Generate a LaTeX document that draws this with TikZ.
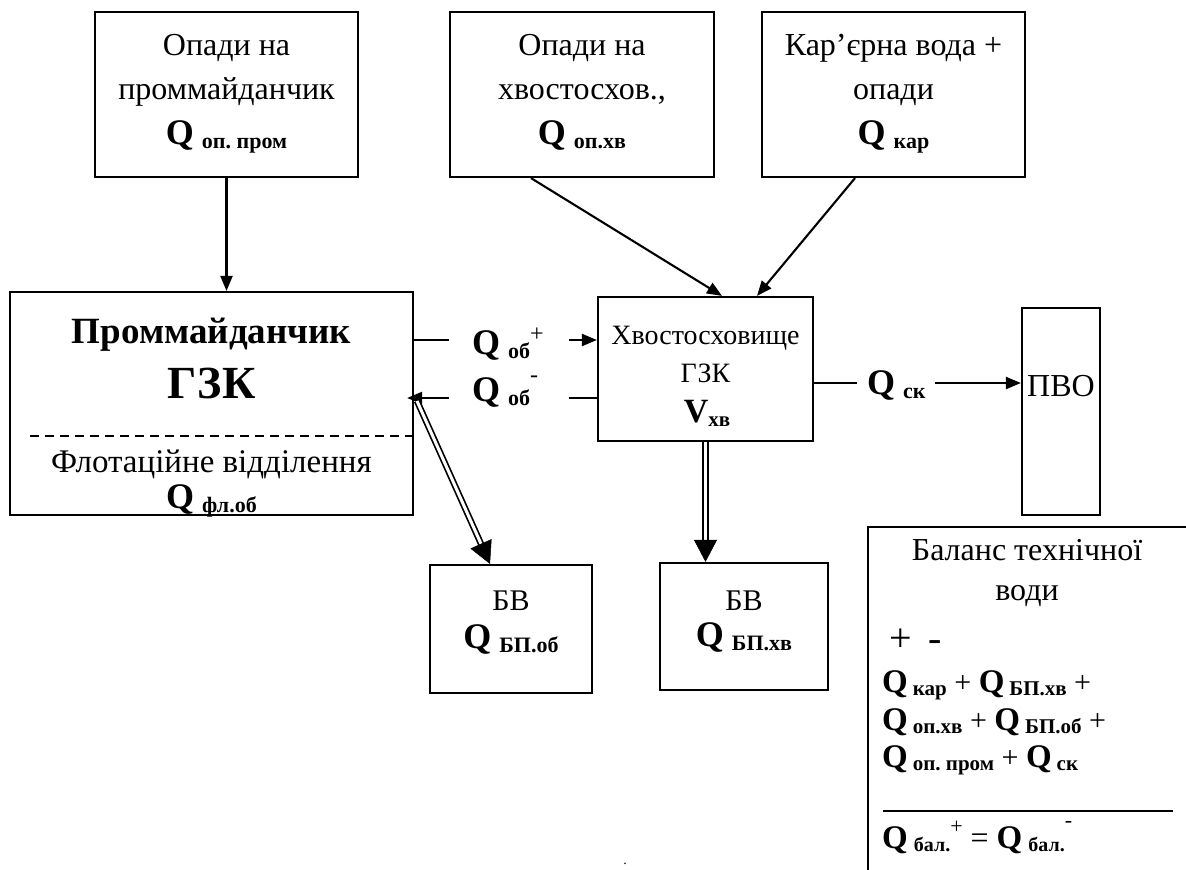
\documentclass[tikz,border=0pt]{standalone}
\usepackage{fontspec}
\setmainfont{Liberation Serif}
\usetikzlibrary{arrows.meta,calc}
\newcommand\fs[1]{\fontsize{#1}{#1}\selectfont}
\newcommand\Qb[1]{{\fs{36}\bfseries Q}\hspace{8pt}\raisebox{-4pt}{\fs{22}\bfseries #1}}
\newcommand\Qs[1]{{\fs{33}\bfseries Q}\hspace{5pt}\raisebox{-3pt}{\fs{21}\bfseries #1}}
\newcommand\Qt[1]{{\fs{33}\bfseries Q}\hspace{6pt}\raisebox{-3pt}{\fs{20}\bfseries #1}}
\begin{document}
\begin{tikzpicture}[x=1pt,y=-1pt,
 box/.style={draw, line width=2.2pt, inner sep=0pt},
 txt/.style={inner sep=0pt, anchor=base, font=\fs{32}},
 lab/.style={inner sep=0pt, anchor=base west},
 arr/.style={line width=2.1pt, -{Triangle[length=15pt,width=12pt]}},
 ln/.style={line width=2.1pt},
 dbl/.style={double, line width=1.7pt, double distance=3pt},
 dtip/.style={line width=0.5pt, -{Triangle[length=22pt,width=23pt]}},
 frame/.style={line width=2.2pt}
]
\useasboundingbox (0,0) rectangle (1186,870);
% boxes
\node[box, minimum width=263pt, minimum height=165pt] (b1) at (226.5,94.5) {};
\node[box, minimum width=264pt, minimum height=165pt] (b2) at (582,94.5) {};
\node[box, minimum width=263pt, minimum height=165pt] (b3) at (893.5,94.5) {};
\node[box, minimum width=403pt, minimum height=223pt] (main) at (211.5,403.5) {};
\node[box, minimum width=215pt, minimum height=144pt] (hv) at (705.5,369) {};
\node[box, minimum width=78pt, minimum height=207pt] (pvo) at (1061,411.5) {};
\node[box, minimum width=162pt, minimum height=128pt] (bv1) at (511,629) {};
\node[box, minimum width=168pt, minimum height=127pt] (bv2) at (744,626.5) {};
% box texts
\node[txt] (b1a) at (226.5,55) {Опади на};
\node[txt] (b1b) at (226.5,99) {проммайданчик};
\node[txt] (b1c) at (226.5,144) {\Qb{оп.~пром}};
\node[txt] (b2a) at (582,55) {Опади на};
\node[txt] (b2b) at (582,99) {хвостосхов.,};
\node[txt] (b2c) at (582,144) {\Qb{оп.хв}};
\node[txt] (b3a) at (893.5,55) {Кар’єрна вода +};
\node[txt] (b3b) at (893.5,99) {опади};
\node[txt] (b3c) at (893.5,144) {\Qb{кар}};
\node[txt, font=\fs{37}\bfseries] (m1) at (211.5,343) {Проммайданчик};
\node[txt, font=\fs{46}\bfseries] (m2) at (211.5,398) {ГЗК};
\coordinate (dl) at (30,436);
\draw[line width=1.5pt, dash pattern=on 9pt off 6pt] (dl) -- (dl -| main.east);
\node[txt, font=\fs{33}] (m3) at (211.5,472) {Флотаційне відділення};
\node[txt] (m4) at (211.5,508) {\Qb{фл.об}};
\node[txt, font=\fs{28}] (h1) at (705.5,344) {Хвостосховище};
\node[txt, font=\fs{28}] (h2) at (705.5,382) {ГЗК};
\node[txt] (h3) at (707,422) {{\fs{34}\bfseries V}\raisebox{-4pt}{\fs{21}\bfseries хв}};
\node[txt, font=\fs{32}] (p1) at (1061,396) {ПВО};
\node[txt, font=\fs{30}] (v1a) at (511,610) {БВ};
\node[txt] (v1b) at (511,648) {\Qb{БП.об}};
\node[txt, font=\fs{30}] (v2a) at (744,610) {БВ};
\node[txt] (v2b) at (744,646) {\Qb{БП.хв}};
% arrows from top boxes
\draw[arr] (b1.south) -- (b1.south |- main.north);
\draw[arr] ([xshift=-51pt]b2.south) -- ([xshift=16.5pt]hv.north);
\draw[arr] ([xshift=-38.5pt]b3.south) -- ([xshift=51.5pt]hv.north);
% Q ob
\coordinate (q1l) at (449,340); \coordinate (q1r) at (569,340);
\draw[ln] (main.east |- q1l) -- (q1l);
\draw[arr] (q1r) -- (q1r -| hv.west);
\node[lab] (qop) at (472,354) {\Qb{об}\raisebox{13pt}{\fs{24}+}};
\coordinate (q2l) at (449,398); \coordinate (q2r) at (569,398);
\draw[arr] (q2l) -- ([xshift=-7pt]main.east |- q2l);
\draw[ln] (q2r) -- (q2r -| hv.west);
\node[lab] (qom) at (472,401) {\Qb{об}\raisebox{19pt}{\fs{24}-}};
% Q sk
\coordinate (sl) at (857,383); \coordinate (sr) at (935,383);
\draw[ln] (hv.east |- sl) -- (sl);
\node[lab] (qsk) at (867,394) {\Qb{ск}};
\draw[arr] (sr) -- (sr -| pvo.west);
% double arrows
\coordinate (d1s) at (417,401);
\coordinate (d1e) at ([xshift=-21pt]bv1.north);
\draw[dbl, shorten >=20pt] (d1s) -- (d1e);
\draw[dtip] ($(d1e)!21pt!(d1s)$) -- (d1e);
\coordinate (d2s) at (hv.south);
\coordinate (d2e) at (d2s |- bv2.north);
\draw[dbl, shorten >=20pt] (d2s) -- (d2e);
\draw[dtip] ($(d2e)!21pt!(d2s)$) -- (d2e);
% balance
\coordinate (btr) at (1186,527); \coordinate (btl) at (868,527); \coordinate (bbl) at (868,870);
\draw[frame] (btr) -- (btl) -- (bbl);
\node[txt] (bal1) at (1027,560) {Баланс технічної};
\node[txt] (bal2) at (1027,600) {води};
\node[lab, font=\fs{40}] (bal3) at (889,651) {+ \,-};
\node[lab, font=\fs{30}] (f1) at (882,692) {\Qs{кар} + \Qs{БП.хв} +};
\node[lab, font=\fs{30}] (f2) at (882,730) {\Qs{оп.хв} + \Qs{БП.об} +};
\node[lab, font=\fs{30}] (f3) at (882,767) {\Qs{оп.~пром} + \Qs{ск}};
\coordinate (s1) at (883,811); \coordinate (s2) at (1173,811);
\draw[frame] (s1) -- (s2);
\node[lab, font=\fs{32}] (f4) at (882,848) {\Qt{бал.}\raisebox{15pt}{\fs{22}+} = \Qt{бал.}\raisebox{21pt}{\fs{22}-}};
\node[inner sep=0pt, anchor=base, font=\fs{14}] (dot) at (625,864) {.};
\end{tikzpicture}
\end{document}
